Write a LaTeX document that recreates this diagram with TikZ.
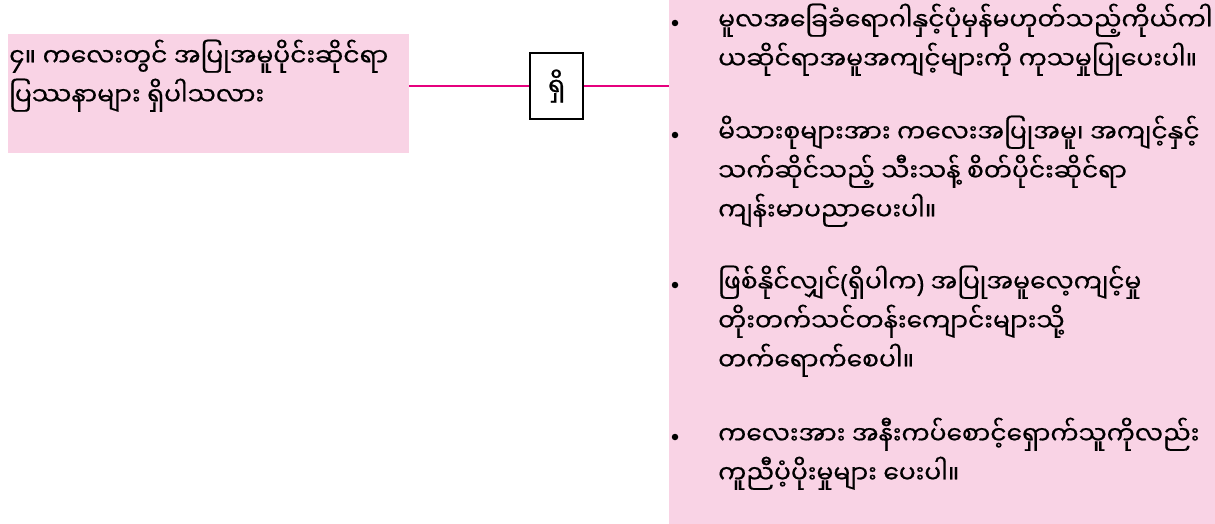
\documentclass[tikz,border=0pt]{standalone}
\usepackage{fontspec}
\newfontfamily\mmfont[Script=Myanmar,FakeBold=0.5]{Noto Sans Myanmar UI}
\newfontfamily\parenfont[FakeBold=0.5]{Noto Sans}
\usetikzlibrary{positioning}

\definecolor{softpink}{RGB}{249,211,229}
\definecolor{linkpink}{RGB}{230,0,126}

\newcommand\mmsize{\mmfont\fontsize{25}{39}\selectfont\lineskiplimit=-100pt\relax}

\tikzset{
	pinkbox/.style={fill=softpink, draw=none, inner sep=0pt, anchor=north west},
	mmtext/.style={font=\mmsize, align=left, inner sep=0pt, anchor=base west},
	answerbox/.style={draw, line width=1.5pt, minimum width=53pt, minimum height=66pt, inner sep=0pt, font=\mmsize},
	bulletdot/.style={circle, fill=black, inner sep=0pt, minimum size=6.5pt},
	link/.style={linkpink, line width=2pt},
}

\begin{document}
\begin{tikzpicture}[x=1pt,y=-1pt]
	\useasboundingbox (0,0) rectangle (1215,524);

	% question on the left (base = last line)
	\node[pinkbox, minimum width=401pt, minimum height=119pt] (qbox) at (8,34) {};
	\node[mmtext] (qtext) at (9,105) {၄။ ကလေးတွင် အပြုအမူပိုင်းဆိုင်ရာ\\ပြဿနာများ ရှိပါသလား};

	% answer in the middle
	\node[answerbox] (ans) at (556.5,86) {ရှိ};

	% advice on the right
	\node[pinkbox, minimum width=546pt, minimum height=524pt] (adv) at (669,0) {};

	\node[bulletdot] (b1) at (675,23) {};
	\node[mmtext] (t1) at (718,69) {မူလအခြေခံရောဂါနှင့်ပုံမှန်မဟုတ်သည့်ကိုယ်ကါ\\ယဆိုင်ရာအမူအကျင့်များကို ကုသမှုပြုပေးပါ။};

	\node[bulletdot] (b2) at (675,135) {};
	\node[mmtext] (t2) at (718,220) {မိသားစုများအား ကလေးအပြုအမူ၊ အကျင့်နှင့်\\သက်ဆိုင်သည့် သီးသန့် စိတ်ပိုင်းဆိုင်ရာ\\ကျန်းမာပညာပေးပါ။};

	\node[bulletdot] (b3) at (675,285) {};
	\node[mmtext] (t3) at (718,370) {ဖြစ်နိုင်လျှင်{\parenfont(}ရှိပါက{\parenfont)} အပြုအမူလေ့ကျင့်မှု\\တိုးတက်သင်တန်းကျောင်းများသို့\\တက်ရောက်စေပါ။};

	\node[bulletdot] (b4) at (675,437) {};
	\node[mmtext] (t4) at (718,483) {ကလေးအား အနီးကပ်စောင့်ရှောက်သူကိုလည်း\\ကူညီပံ့ပိုးမှုများ ပေးပါ။};

	% connectors
	\draw[link] (ans.west) -- (ans.west -| qbox.east);
	\draw[link] (ans.east) -- (ans.east -| adv.west);
\end{tikzpicture}
\end{document}
